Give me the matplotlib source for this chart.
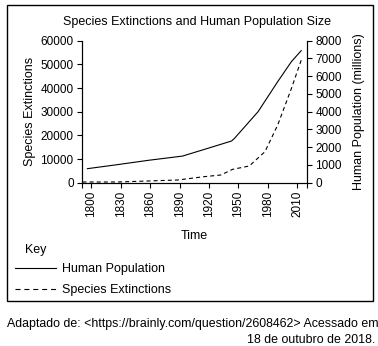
import matplotlib
matplotlib.use("Agg")
import matplotlib.pyplot as plt
from matplotlib.patches import Rectangle
from matplotlib.lines import Line2D

plt.rcParams['font.family'] = ['Liberation Sans', 'DejaVu Sans']
plt.rcParams['font.size'] = 8.5

# -----------------------------
# DATA
# -----------------------------
pop_years = [1796, 1827, 1858, 1893, 1919, 1943, 1946, 1970, 1990, 2004, 2014]
pop_millions = [790, 1020, 1260, 1500, 1940, 2350, 2500, 4000, 5690, 6820, 7440]

ext_years = [1791, 1827, 1888, 1915, 1932, 1944, 1961, 1977, 1990, 2004, 2014]
extinctions = [300, 300, 1140, 2550, 3250, 5640, 7050, 13090, 24340, 39820, 51770]

year_ticks = [1800, 1830, 1860, 1890, 1920, 1950, 1980, 2010]
ext_ticks = [0, 10000, 20000, 30000, 40000, 50000, 60000]
pop_ticks = [0, 1000, 2000, 3000, 4000, 5000, 6000, 7000, 8000]

W, H = 378, 346
fig = plt.figure(figsize=(W / 100, H / 100), dpi=100)

# outer box
fig.patches.append(Rectangle((7 / W, 1 - 301 / H), (373 - 7) / W, (301 - 5) / H,
                             transform=fig.transFigure, fill=False,
                             edgecolor="black", linewidth=1.0))

ax = fig.add_axes([82 / W, 1 - 182.7 / H, (307 - 82) / W, (182.7 - 40.7) / H])
ax2 = ax.twinx()

ax.plot(ext_years, extinctions, color="black", linewidth=0.8, dashes=(3.6, 2.8))
ax2.plot(pop_years, pop_millions, color="black", linewidth=0.8)

ax.set_xlim(1790.5, 2019.9)
ax.set_ylim(0, 60000)
ax2.set_ylim(0, 8000)

ax.set_xticks(year_ticks)
ax.set_xticklabels([str(y) for y in year_ticks], rotation=90)
ax.set_xticks([1790.5, 2019.9], minor=True)
ax.set_yticks(ext_ticks)
ax2.set_yticks(pop_ticks)

for a in (ax, ax2):
    a.spines['top'].set_visible(False)
    a.patch.set_visible(False)
    a.tick_params(length=3.5, width=0.8, pad=2.5)
    a.tick_params(axis='x', which='minor', length=3.5, width=0.8)

ax.set_xlabel("Time", fontsize=9, labelpad=9)
ax.set_ylabel("Species Extinctions", fontsize=9, labelpad=3)
ax2.set_ylabel("Human Population (millions)", fontsize=9, labelpad=8)

fig.text(197 / W, 1 - 22 / H, "Species Extinctions and Human Population Size",
         ha="center", va="center", fontsize=9)

# key
fig.text(25 / W, 1 - 250 / H, "Key", ha="left", va="center", fontsize=9)
handles = [Line2D([], [], color="black", linewidth=0.8),
           Line2D([], [], color="black", linewidth=0.8, dashes=(4.5, 3.5))]
fig.legend(handles, ["Human Population", "Species Extinctions"],
           loc="upper left", bbox_to_anchor=(10 / W, 1 - 258 / H),
           frameon=False, fontsize=9, handlelength=3.3, handletextpad=0.5,
           labelspacing=0.75, borderaxespad=0)

fig.text(7 / W, 1 - 324 / H,
         "Adaptado de: <https://brainly.com/question/2608462> Acessado em",
         ha="left", va="center", fontsize=8.9)
fig.text(375 / W, 1 - 340 / H, "18 de outubro de 2018.",
         ha="right", va="center", fontsize=8.9)

fig.savefig("out.png", dpi=100)
